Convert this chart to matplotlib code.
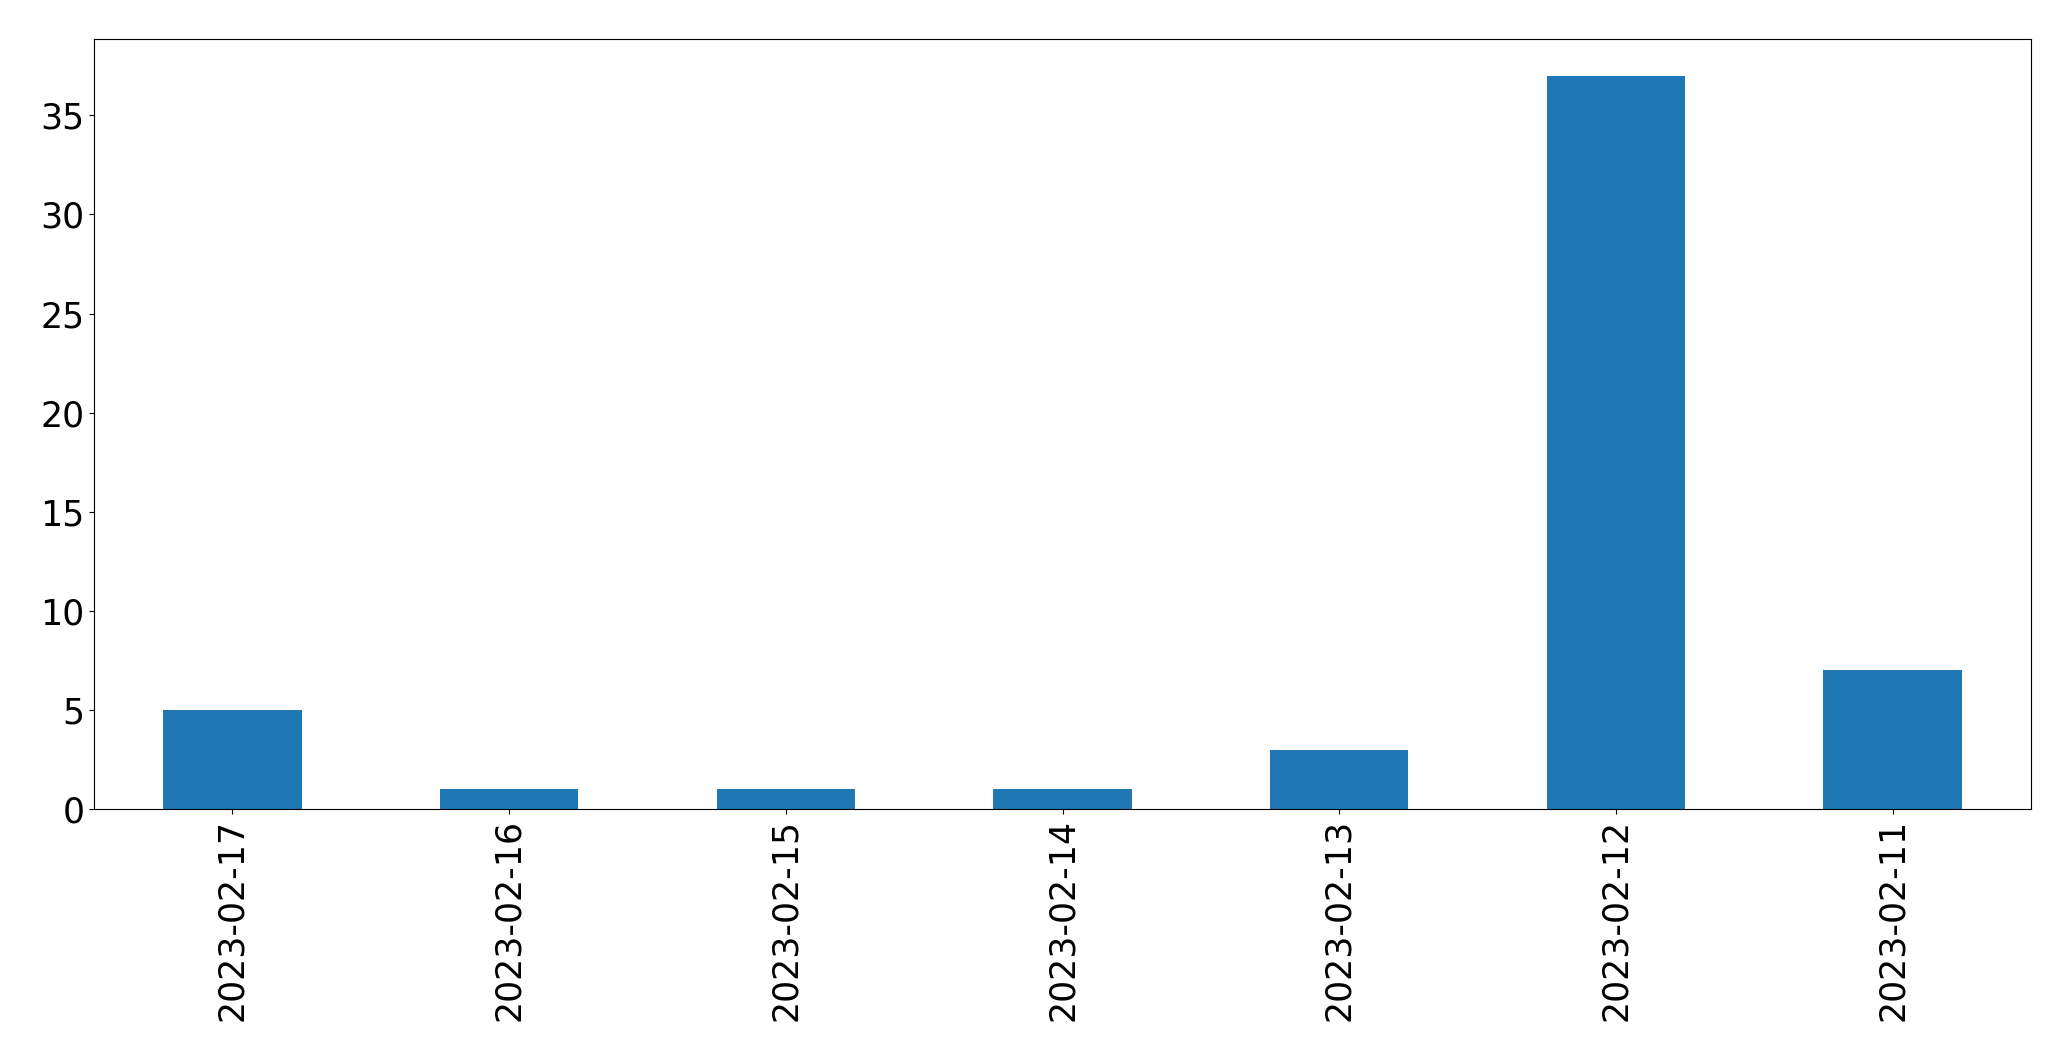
import numpy as np
import pandas as pd
import matplotlib
matplotlib.use("Agg")
import matplotlib.pyplot as plt

# Counts per day, newest first
dates = ["2023-02-17", "2023-02-16", "2023-02-15", "2023-02-14",
         "2023-02-13", "2023-02-12", "2023-02-11"]
counts = [5, 1, 1, 1, 3, 37, 7]

series = pd.Series(counts, index=dates)

fig = plt.figure(figsize=(20.71, 10.61), dpi=100)
ax = fig.add_axes([94 / 2071, (1061 - 809) / 1061, (2031 - 94) / 2071, (809 - 39) / 1061])

series.plot(kind="bar", ax=ax, color="#1f77b4", fontsize=25)

fig.savefig("out.png", dpi=100)
